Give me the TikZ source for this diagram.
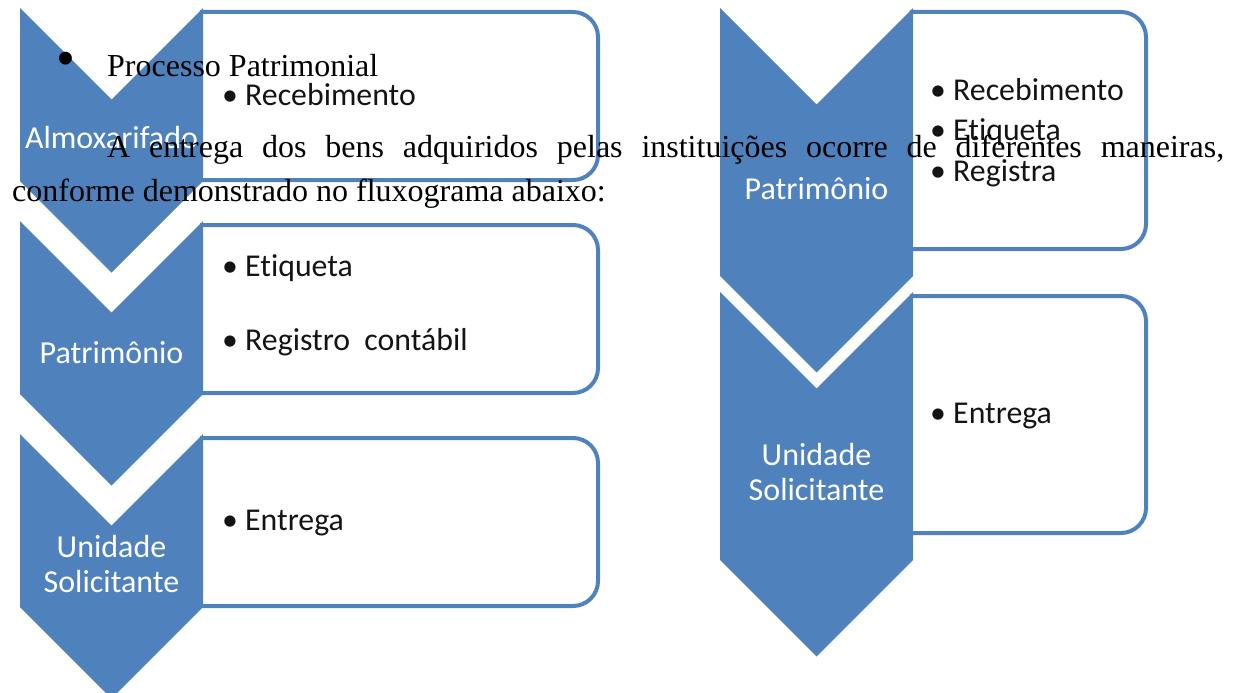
\documentclass[tikz,border=0pt]{standalone}
\usepackage{fontspec}
\setmainfont{Liberation Serif}
\newfontfamily\calibri[Ligatures=NoCommon]{Carlito}
\usepackage{tikz}

\definecolor{smartblue}{HTML}{4F81BD}
\definecolor{inktext}{HTML}{141414}

\tikzset{
  chev/.style={fill=smartblue},
  panel/.style={draw=smartblue, line width=4pt, rounded corners=25pt},
  steplabel/.style={text=white, font=\calibri\fontsize{32}{38}\selectfont, inner sep=0pt, anchor=base},
  item/.style={text=inktext, font=\calibri\fontsize{31.8}{38}\selectfont, inner sep=0pt, anchor=base west},
  prose/.style={text=black, font=\fontsize{32}{38}\selectfont, inner sep=0pt, anchor=base west}
}

\begin{document}
\begin{tikzpicture}[x=1pt, y=-1pt]
\useasboundingbox (0,0) rectangle (1234,693);

% left column
\foreach \t in {8,221,434} {
  \draw[panel] (200,\t+4) -- (598,\t+4) -- (598,\t+172) -- (200,\t+172);
  \fill[chev] (20,\t) -- (111.5,\t+91.5) -- (203,\t) -- (203,\t+173)
     -- (111.5,\t+264.5) -- (20,\t+173) -- cycle;
}

% right column
\foreach \t in {8,292} {
  \draw[panel] (910,\t+4) -- (1146,\t+4) -- (1146,\t+241) -- (910,\t+241);
  \fill[chev] (720,\t) -- (816.5,\t+96.5) -- (913,\t) -- (913,\t+268)
     -- (816.5,\t+364.5) -- (720,\t+268) -- cycle;
}

\node[steplabel] (almox) at (111.5,148) {Almoxarifado};
\node[steplabel] (patrimL) at (111.5,363) {Patrimônio};
\node[steplabel] (unidL) at (111.5,557) {Unidade};
\node[steplabel] (solicL) at (111.5,592) {Solicitante};

\node[item] (receb) at (222,105) {• Recebimento};
\node[item] (etiqL) at (222,276) {• Etiqueta};
\node[item] (regcont) at (222,350) {• Registro\ \ contábil};
\node[item] (entregaL) at (222,530) {• Entrega};

\node[steplabel] (patrimR) at (816.5,199) {Patrimônio};
\node[steplabel] (unidR) at (816.5,465) {Unidade};
\node[steplabel] (solicR) at (816.5,500) {Solicitante};

\node[item] (recebR) at (930,100) {• Recebimento};
\node[item] (etiqR) at (930,140) {• Etiqueta};
\node[item] (registra) at (930,181) {• Registra};
\node[item] (entregaR) at (930,423) {• Entrega};

% document text over the figure
\node[text=black, font=\fontsize{54}{54}\selectfont, inner sep=0pt] (dot) at (66,64) {•};
\node[prose] (titulo) at (107,77) {Processo Patrimonial};
\node[prose] (linha1) at (107,157)
  {\makebox[1117pt][s]{A entrega dos bens adquiridos pelas instituições ocorre de diferentes maneiras,}};
\node[prose] (linha2) at (12,201) {conforme demonstrado no fluxograma abaixo:};
\end{tikzpicture}
\end{document}
